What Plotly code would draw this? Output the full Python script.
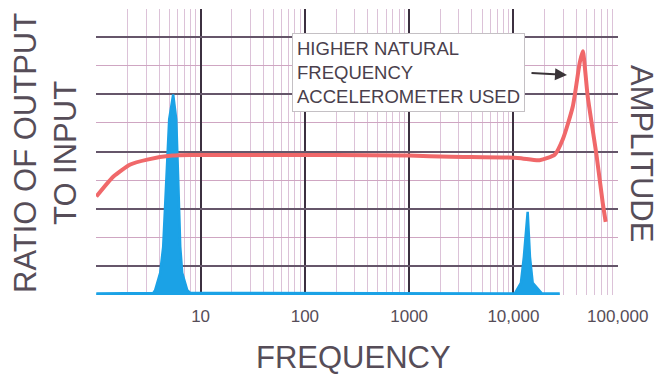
import plotly.graph_objects as go

# Red curve: ratio of output to input
red_freq = [1.0, 1.46, 2.12, 3.08, 5.35, 8, 30, 200, 1000, 2500, 11000, 17800,
            25000, 29700, 37100, 43300, 46200, 51600, 62900, 71800, 76700]
red_ratio = [3.43, 4.13, 4.55, 4.72, 4.86, 4.88, 4.88, 4.88, 4.86, 4.82, 4.78, 4.70,
             4.9, 5.42, 6.57, 8.11, 8.5, 6.92, 4.83, 3.22, 2.55]

# Blue curve: amplitude spectrum
blue_freq = [1.0, 3.52, 3.67, 4.10, 4.38, 4.68, 5.00, 5.46, 5.84, 6.10, 6.38, 6.66, 7.44, 7.95,
             10300, 11800, 12600, 13700, 14400, 15300, 18700, 27800]
blue_amp = [0.05, 0.07, 0.17, 0.77, 1.68, 4.02, 6.12, 6.99, 6.12, 4.02, 1.68, 0.77, 0.17, 0.07,
            0.05, 0.42, 1.33, 2.90, 1.33, 0.42, 0.06, 0.05]

tick_vals = [10, 100, 1000, 10000, 100000]
tick_text = ["10", "100", "1000", "10,000", "100,000"]
minor_vals = [d * 10 ** k for k in range(5) for d in range(1, 10) if d * 10 ** k not in tick_vals]

TXT = "#564d58"
FONT = "Liberation Sans, Arial, sans-serif"

fig = go.Figure()
fig.add_trace(go.Scatter(x=blue_freq, y=blue_amp, mode="lines", fill="tozeroy",
                         line=dict(color="#1ba2e6", width=2.5), fillcolor="#1ba2e6",
                         hoverinfo="skip", showlegend=False))
fig.add_trace(go.Scatter(x=red_freq, y=red_ratio, mode="lines",
                         line=dict(color="#f0686a", width=4, shape="spline", smoothing=0.6),
                         hoverinfo="skip", showlegend=False))

fig.update_layout(
    width=660, height=376,
    margin=dict(l=96, r=42, t=9, b=81),
    paper_bgcolor="white", plot_bgcolor="white",
    font=dict(family=FONT, color=TXT),
    xaxis=dict(type="log", range=[-0.003, 5.003],
               tickmode="array", tickvals=tick_vals, ticktext=tick_text,
               tickfont=dict(size=17, color=TXT), ticks="", ticklabelstandoff=9,
               showgrid=True, gridcolor="#3c3040", gridwidth=2,
               minor=dict(tickmode="array", tickvals=minor_vals, showgrid=True,
                          gridcolor="#dcc2d8", gridwidth=1),
               zeroline=False, showline=False),
    yaxis=dict(range=[0, 9.97], tickmode="linear", tick0=1, dtick=2,
               showticklabels=False, ticks="",
               showgrid=True, gridcolor="#65566a", gridwidth=1.5,
               minor=dict(tickmode="linear", tick0=0, dtick=1, showgrid=True,
                          gridcolor="#cfa6c2", gridwidth=1.3),
               zeroline=False, showline=False),
    annotations=[
        dict(xref="paper", yref="paper", x=(292 - 96) / 522, y=(295 - 33) / 286,
             xanchor="left", yanchor="top",
             text="HIGHER NATURAL<br>FREQUENCY<br>ACCELEROMETER USED", align="left",
             showarrow=False, bgcolor="white", bordercolor="#c4c0c4", borderwidth=1,
             borderpad=4, font=dict(size=18.5, color="#4a3f4c")),
        dict(xref="paper", yref="paper", x=(567 - 96) / 522, y=(295 - 75) / 286,
             ax=-37, ay=-2, text="", showarrow=True, arrowhead=2, arrowsize=1.2,
             arrowwidth=2, arrowcolor="#3a3438"),
        dict(xref="paper", yref="paper", x=-0.0977, y=0.4965, xanchor="center", yanchor="middle",
             text="RATIO OF OUTPUT<br>TO INPUT", textangle=-90, showarrow=False,
             font=dict(size=31, color=TXT)),
        dict(xref="paper", yref="paper", x=(642 - 96) / 522, y=0.4965, xanchor="center",
             yanchor="middle", text="AMPLITUDE", textangle=90, showarrow=False,
             font=dict(size=31, color=TXT)),
        dict(xref="paper", yref="paper", x=0.494, y=-0.220, xanchor="center", yanchor="middle",
             text="FREQUENCY", showarrow=False, font=dict(size=31, color=TXT)),
    ],
)

fig.write_html("out.html", config={"displayModeBar": False},
               post_script="document.body.style.margin='0';")
